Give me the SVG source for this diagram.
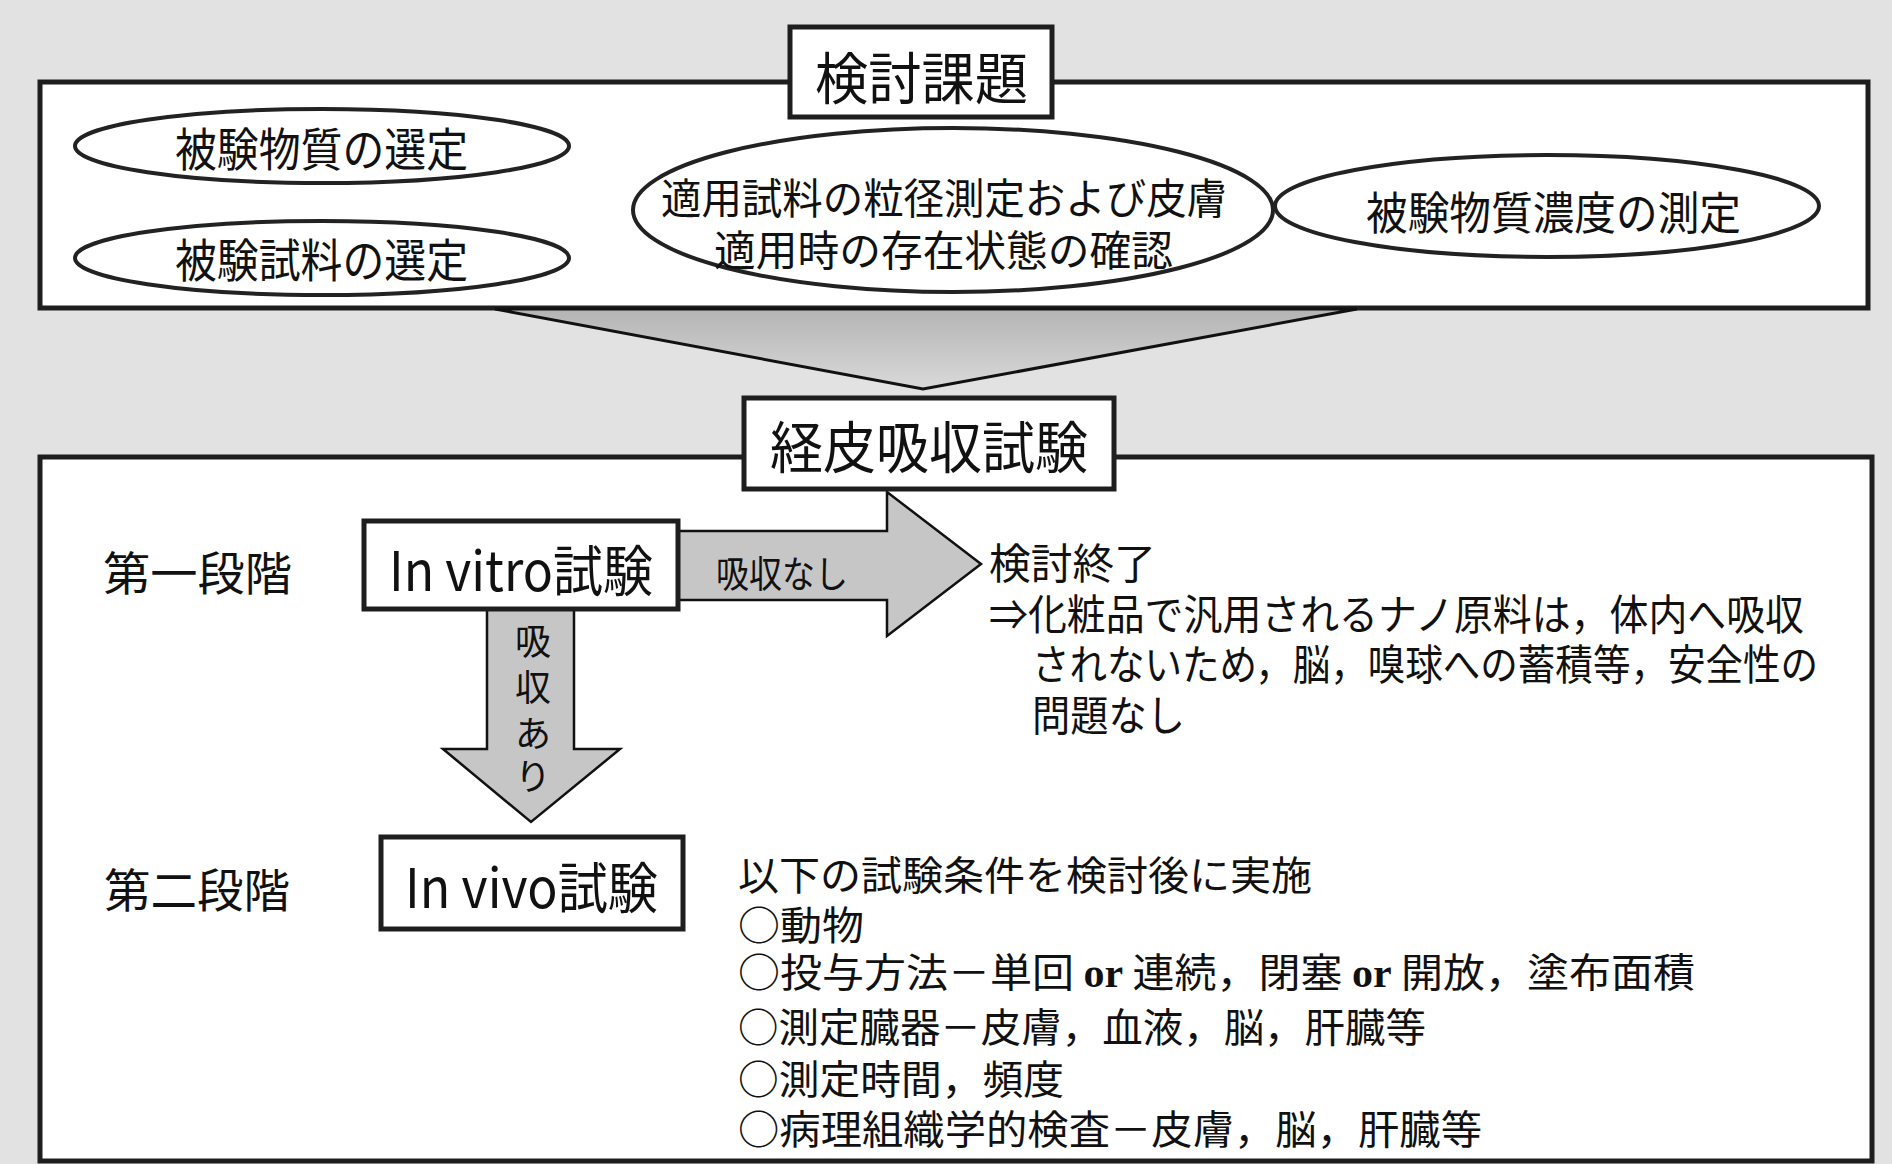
<svg xmlns="http://www.w3.org/2000/svg" width="1892" height="1164" viewBox="0 0 1892 1164">
<defs>
<style>
.t{font-family:"Noto Sans CJK JP","Noto Sans",sans-serif;fill:#111}
.box{fill:#fff;stroke:#1e1e1e;stroke-width:5}
.ell{fill:#fff;stroke:#222;stroke-width:4}
.arr{fill:#c6c6c6;stroke:#111;stroke-width:2.5;stroke-linejoin:miter}
.or{font-family:"Liberation Serif",serif;font-weight:bold}
</style>
<linearGradient id="funnel" x1="0" y1="0" x2="0" y2="1">
<stop offset="0" stop-color="#b4b4b4"/>
<stop offset="1" stop-color="#d9d9d9"/>
</linearGradient>
</defs>
<rect x="0" y="0" width="1892" height="1164" fill="#e2e2e2"/>

<g id="panel-issues">
<rect class="box" x="40" y="82" width="1828" height="226"/>
</g>
<g id="panel-absorption">
<rect class="box" x="40" y="457" width="1832" height="704"/>
</g>

<g id="connectors">
<polygon id="funnel-arrow" points="495,309 1357,309 923,389" fill="url(#funnel)" stroke="#111" stroke-width="3"/>
<polygon id="arrow-no-absorption" class="arr" points="678,531 887,531 887,492 981,564 887,636 887,600 678,600"/>
<text class="t" x="716" y="588" font-size="37" textLength="132" lengthAdjust="spacingAndGlyphs">吸収なし</text>
<polygon id="arrow-absorption" class="arr" points="487,609 574,609 574,749 620,749 531,822 443,749 487,749"/>
<text class="t" font-size="36" text-anchor="middle"><tspan x="533" y="655">吸</tspan><tspan x="533" y="701">収</tspan><tspan x="533" y="747">あ</tspan><tspan x="533" y="790">り</tspan></text>
</g>

<g id="title-issues">
<rect class="box" x="790" y="27" width="262" height="90"/>
<text class="t" x="815" y="99" font-size="56" textLength="213" lengthAdjust="spacingAndGlyphs">検討課題</text>
</g>
<g id="issue-substance">
<ellipse class="ell" cx="322" cy="146" rx="247" ry="37"/>
<text class="t" x="175" y="166" font-size="46" textLength="293" lengthAdjust="spacingAndGlyphs">被験物質の選定</text>
</g>
<g id="issue-sample">
<ellipse class="ell" cx="322" cy="258" rx="247" ry="37"/>
<text class="t" x="175" y="277" font-size="46" textLength="293" lengthAdjust="spacingAndGlyphs">被験試料の選定</text>
</g>
<g id="issue-particle">
<ellipse class="ell" cx="953" cy="210" rx="320" ry="82"/>
<text class="t" x="661" y="214" font-size="42" textLength="566" lengthAdjust="spacingAndGlyphs">適用試料の粒径測定および皮膚</text>
<text class="t" x="714" y="266" font-size="42" textLength="459" lengthAdjust="spacingAndGlyphs">適用時の存在状態の確認</text>
</g>
<g id="issue-concentration">
<ellipse class="ell" cx="1547" cy="206" rx="272" ry="51"/>
<text class="t" x="1366" y="230" font-size="45" textLength="375" lengthAdjust="spacingAndGlyphs">被験物質濃度の測定</text>
</g>

<g id="title-absorption">
<rect class="box" x="744" y="398" width="370" height="91"/>
<text class="t" x="770" y="468" font-size="56" textLength="318" lengthAdjust="spacingAndGlyphs">経皮吸収試験</text>
</g>

<g id="stage1-label">
<text class="t" x="103" y="590" font-size="46" textLength="189" lengthAdjust="spacingAndGlyphs">第一段階</text>
</g>
<g id="in-vitro">
<rect class="box" x="364" y="521" width="314" height="88"/>
<text class="t" x="389" y="591" font-size="55" textLength="264" lengthAdjust="spacingAndGlyphs">In vitro試験</text>
</g>
<g id="end-result">
<text class="t" x="989" y="579" font-size="42" textLength="167" lengthAdjust="spacingAndGlyphs">検討終了</text>
<text class="t" x="989" y="630" font-size="42" textLength="815" lengthAdjust="spacingAndGlyphs">⇒化粧品で汎用されるナノ原料は，体内へ吸収</text>
<text class="t" x="1032" y="680" font-size="42" textLength="786" lengthAdjust="spacingAndGlyphs">されないため，脳，嗅球への蓄積等，安全性の</text>
<text class="t" x="1032" y="731" font-size="42" textLength="153" lengthAdjust="spacingAndGlyphs">問題なし</text>
</g>

<g id="stage2-label">
<text class="t" x="104" y="907" font-size="46" textLength="186" lengthAdjust="spacingAndGlyphs">第二段階</text>
</g>
<g id="in-vivo">
<rect class="box" x="381" y="837" width="302" height="92"/>
<text class="t" x="405" y="908" font-size="55" textLength="253" lengthAdjust="spacingAndGlyphs">In vivo試験</text>
</g>
<g id="conditions">
<text class="t" x="738" y="890" font-size="40" textLength="574" lengthAdjust="spacingAndGlyphs">以下の試験条件を検討後に実施</text>
<text class="t" x="738" y="940" font-size="40" textLength="126" lengthAdjust="spacingAndGlyphs">○動物</text>
<text class="t" x="738" y="987" font-size="40" textLength="957" lengthAdjust="spacingAndGlyphs">○投与方法－単回 <tspan class="or">or</tspan> 連続，閉塞 <tspan class="or">or</tspan> 開放，塗布面積</text>
<text class="t" x="738" y="1042" font-size="40" textLength="688" lengthAdjust="spacingAndGlyphs">○測定臓器－皮膚，血液，脳，肝臓等</text>
<text class="t" x="738" y="1094" font-size="40" textLength="326" lengthAdjust="spacingAndGlyphs">○測定時間，頻度</text>
<text class="t" x="738" y="1144" font-size="40" textLength="744" lengthAdjust="spacingAndGlyphs">○病理組織学的検査－皮膚，脳，肝臓等</text>
</g>
</svg>
